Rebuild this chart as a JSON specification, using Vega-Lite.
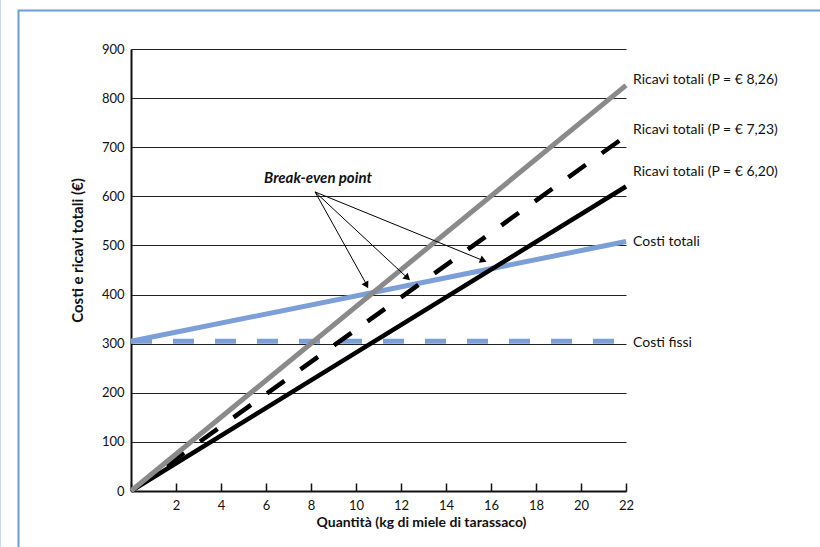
{
  "$schema": "https://vega.github.io/schema/vega-lite/v6.json",
  "width": 495,
  "height": 442,
  "autosize": {"type": "none"},
  "padding": {"left": 131, "top": 49, "right": 194, "bottom": 56},
  "background": "white",
  "config": {
    "view": {"stroke": null},
    "font": "Lato",
    "axis": {
      "labelFont": "Lato",
      "labelFontSize": 13,
      "labelColor": "#111",
      "titleFont": "Lato",
      "titleFontSize": 14,
      "titleFontWeight": "bold",
      "titleColor": "#111",
      "domainColor": "#111",
      "domainWidth": 2
    }
  },
  "datasets": {
    "frame": [
      {"x": -5.0, "x2": 40, "y": 978.4, "y2": -150}
    ],
    "edge": [
      {"x": -5.8, "y": 1000, "y2": -150}
    ],
    "lines": [
      {"s": "CF", "x": 0, "y": 305}, {"s": "CF", "x": 22, "y": 305},
      {"s": "CT", "x": 0, "y": 305}, {"s": "CT", "x": 22, "y": 508},
      {"s": "R620", "x": 0, "y": 0}, {"s": "R620", "x": 22, "y": 620},
      {"s": "R723", "x": 0, "y": 0}, {"s": "R723", "x": 22, "y": 723},
      {"s": "R826", "x": 0, "y": 0}, {"s": "R826", "x": 22, "y": 826}
    ],
    "labels": [
      {"x": 22, "y": 837, "t": "Ricavi totali (P = € 8,26)"},
      {"x": 22, "y": 735, "t": "Ricavi totali (P = € 7,23)"},
      {"x": 22, "y": 650, "t": "Ricavi totali (P = € 6,20)"},
      {"x": 22, "y": 507, "t": "Costi totali"},
      {"x": 22, "y": 301, "t": "Costi fissi"}
    ],
    "note": [{"x": 8.31, "y": 637, "t": "Break-even point"}],
    "arrows": [
      {"id": 1, "x": 8.18, "y": 609, "x2": 10.5, "y2": 418},
      {"id": 2, "x": 8.18, "y": 609, "x2": 12.33, "y2": 432},
      {"id": 3, "x": 8.18, "y": 609, "x2": 15.72, "y2": 468}
    ],
    "heads": [
      {"id": 1, "x": 10.47, "y": 419},
      {"id": 2, "x": 12.29, "y": 434},
      {"id": 3, "x": 15.66, "y": 469.5}
    ]
  },
  "layer": [
    {
      "data": {"name": "lines"},
      "transform": [{"filter": "datum.s === 'CF'"}],
      "mark": {"type": "line", "color": "#7b9fd6", "strokeWidth": 5, "strokeDash": [21, 21], "strokeCap": "butt"},
      "encoding": {
        "x": {
          "field": "x", "type": "quantitative",
          "scale": {"domain": [0, 22], "nice": false, "zero": false},
          "axis": {
            "title": "Quantità (kg di miele di tarassaco)",
            "values": [0,1,2,3,4,5,6,7,8,9,10,11,12,13,14,15,16,17,18,19,20,21,22],
            "labelExpr": "datum.value > 0 && datum.value % 2 === 0 ? datum.label : ''",
            "grid": false,
            "ticks": true,
            "tickSize": -8,
            "tickColor": "#111",
            "tickWidth": 1.5,
            "labelPadding": 16,
            "titlePadding": 3,
            "titleX": 290,
            "labelFlush": false,
            "labelOverlap": false
          }
        },
        "y": {
          "field": "y", "type": "quantitative",
          "scale": {"domain": [0, 900], "nice": false, "zero": false},
          "axis": {
            "title": "Costi e ricavi totali (€)",
            "titleFontSize": 15,
            "values": [0,100,200,300,400,500,600,700,800,900],
            "grid": true,
            "gridColor": "#222",
            "gridWidth": 1,
            "ticks": false,
            "labelPadding": 7,
            "titlePadding": 16,
            "titleY": 201
          }
        }
      }
    },
    {
      "data": {"name": "lines"},
      "transform": [{"filter": "datum.s === 'CT'"}],
      "mark": {"type": "line", "color": "#7b9fd6", "strokeWidth": 5},
      "encoding": {
        "x": {"field": "x", "type": "quantitative"},
        "y": {"field": "y", "type": "quantitative"}
      }
    },
    {
      "data": {"name": "lines"},
      "transform": [{"filter": "datum.s === 'R620'"}],
      "mark": {"type": "line", "color": "#000", "strokeWidth": 4.5},
      "encoding": {
        "x": {"field": "x", "type": "quantitative"},
        "y": {"field": "y", "type": "quantitative"}
      }
    },
    {
      "data": {"name": "lines"},
      "transform": [{"filter": "datum.s === 'R723'"}],
      "mark": {"type": "line", "color": "#000", "strokeWidth": 4.5, "strokeDash": [21.5, 19.7], "strokeDashOffset": 38.6, "strokeCap": "butt"},
      "encoding": {
        "x": {"field": "x", "type": "quantitative"},
        "y": {"field": "y", "type": "quantitative"}
      }
    },
    {
      "data": {"name": "lines"},
      "transform": [{"filter": "datum.s === 'R826'"}],
      "mark": {"type": "line", "color": "#8a8a8a", "strokeWidth": 5},
      "encoding": {
        "x": {"field": "x", "type": "quantitative"},
        "y": {"field": "y", "type": "quantitative"}
      }
    },
    {
      "data": {"name": "arrows"},
      "mark": {"type": "rule", "color": "#000", "strokeWidth": 1},
      "encoding": {
        "x": {"field": "x", "type": "quantitative"},
        "y": {"field": "y", "type": "quantitative"},
        "x2": {"field": "x2"},
        "y2": {"field": "y2"}
      }
    },
    {
      "data": {"name": "heads"},
      "transform": [{"filter": "datum.id === 1"}],
      "mark": {"type": "point", "shape": "triangle-up", "filled": true, "color": "#000", "size": 60, "angle": 151, "opacity": 1},
      "encoding": {
        "x": {"field": "x", "type": "quantitative"},
        "y": {"field": "y", "type": "quantitative"}
      }
    },
    {
      "data": {"name": "heads"},
      "transform": [{"filter": "datum.id === 2"}],
      "mark": {"type": "point", "shape": "triangle-up", "filled": true, "color": "#000", "size": 60, "angle": 133, "opacity": 1},
      "encoding": {
        "x": {"field": "x", "type": "quantitative"},
        "y": {"field": "y", "type": "quantitative"}
      }
    },
    {
      "data": {"name": "heads"},
      "transform": [{"filter": "datum.id === 3"}],
      "mark": {"type": "point", "shape": "triangle-up", "filled": true, "color": "#000", "size": 60, "angle": 112, "opacity": 1},
      "encoding": {
        "x": {"field": "x", "type": "quantitative"},
        "y": {"field": "y", "type": "quantitative"}
      }
    },
    {
      "data": {"name": "note"},
      "mark": {"type": "text", "font": "Lato", "fontSize": 15, "fontWeight": "bold", "fontStyle": "italic", "align": "center", "baseline": "middle", "color": "#111"},
      "encoding": {
        "x": {"field": "x", "type": "quantitative"},
        "y": {"field": "y", "type": "quantitative"},
        "text": {"field": "t"}
      }
    },
    {
      "data": {"name": "labels"},
      "mark": {"type": "text", "font": "Lato", "fontSize": 14, "align": "left", "baseline": "middle", "dx": 7, "color": "#111"},
      "encoding": {
        "x": {"field": "x", "type": "quantitative"},
        "y": {"field": "y", "type": "quantitative"},
        "text": {"field": "t"}
      }
    },
    {
      "data": {"name": "frame"},
      "mark": {"type": "rect", "fill": null, "stroke": "#6f9bd8", "strokeWidth": 2},
      "encoding": {
        "x": {"field": "x", "type": "quantitative"},
        "x2": {"field": "x2"},
        "y": {"field": "y", "type": "quantitative"},
        "y2": {"field": "y2"}
      }
    },
    {
      "data": {"name": "edge"},
      "mark": {"type": "rule", "color": "#c9d8f0", "strokeWidth": 1},
      "encoding": {
        "x": {"field": "x", "type": "quantitative"},
        "y": {"field": "y", "type": "quantitative"},
        "y2": {"field": "y2"}
      }
    }
  ]
}
